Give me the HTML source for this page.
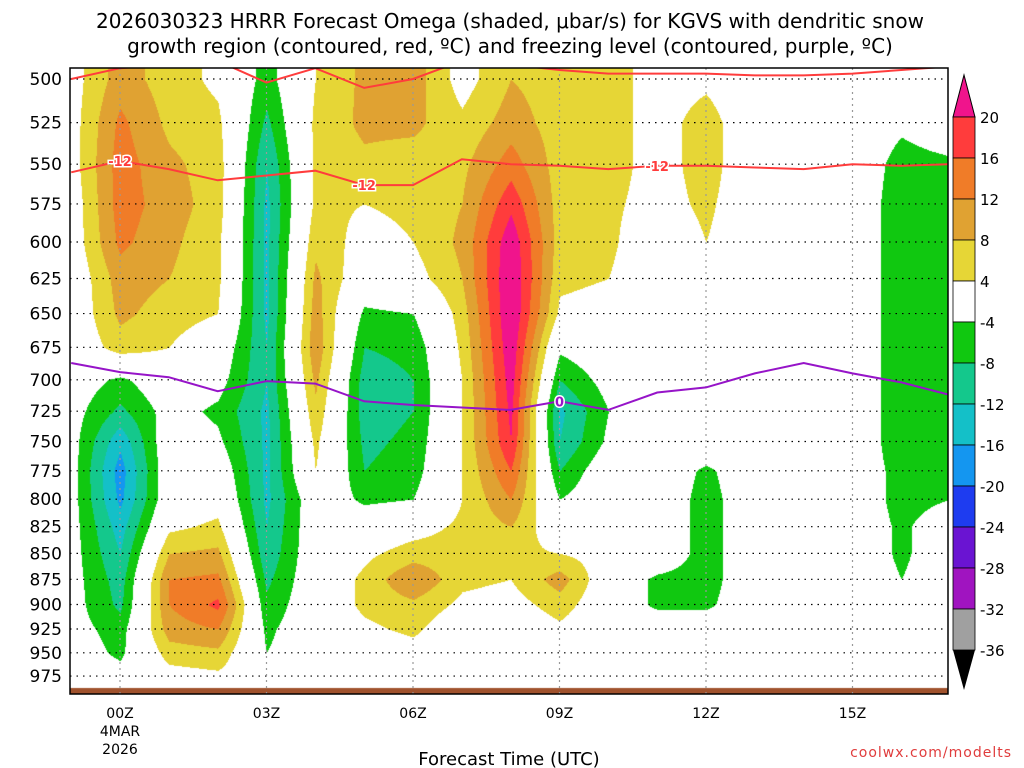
<!DOCTYPE html>
<html><head><meta charset="utf-8"><style>
body{margin:0;background:#fff;width:1024px;height:768px;overflow:hidden;font-family:"DejaVu Sans","Liberation Sans",sans-serif}
#wrap{position:relative;width:1024px;height:768px}
canvas{position:absolute;left:0;top:0}
svg{position:absolute;left:0;top:0;font-family:"DejaVu Sans","Liberation Sans",sans-serif}
</style></head><body>
<div id="wrap">
<canvas id="cv" width="1024" height="768"></canvas>
<svg id="sv" width="1024" height="768"></svg>
</div>
<script>
const hours=[-1,0,1,2,3,4,5,6,7,8,9,10,11,12,13,14,15,16,17];
const levels=[500,525,550,575,600,625,650,675,700,725,750,775,800,825,850,875,900,925,950,975];
const omega=[
[2,2,2,1,1,0,0,0,-1,-2,-2,-2,-2,-2,-2,-2,-2,-2,-1,0],
[10,13,14,14,13,10,9,6,-5,-9,-15,-18,-17,-14,-12,-10,-9,-6,-5,-2],
[6,7,9,10,9,8,6,4,0,-2,0,0,0,3,8,12,12,10,6,2],
[3,5,6,6,5,5,4,0,-2,-5,-3,0,2,5,9,13,17,12,7,3],
[-6,-9,-12,-13,-13,-13,-13,-12,-12,-13,-13,-13,-13,-12,-11,-9,-7,-5,-4,0],
[4,5,5,5,7,9,10,11,9,7,5,4,0,0,0,0,0,0,0,0],
[9,9,7,4,2,0,-5,-8,-10,-10,-9,-8,-5,0,3,5,5,3,0,0],
[10,9,6,5,4,2,-4,-7,-8,-8,-7,-6,-4,2,6,12,7,5,2,0],
[2,5,7,8,9,8,6,5,4,4,4,4,4,5,6,5,3,0,0,0],
[8,10,14,19,23,24,24,23,22,21,20,16,12,8,5,4,2,0,0,0],
[6,6,6,6,6,5,3,-3,-8,-13,-12,-8,-4,0,4,10,6,3,0,0],
[6,6,6,5,5,4,2,0,-2,-4,-3,0,0,0,2,0,0,0,0,0],
[2,2,2,2,0,0,0,0,0,0,0,0,0,0,0,-5,-5,0,0,0],
[3,6,6,5,4,0,0,0,0,0,0,-5,-6,-6,-6,-6,-5,0,0,0],
[0,0,0,0,0,0,0,0,0,0,0,0,0,0,0,0,0,0,0,0],
[0,0,0,0,0,0,0,0,0,0,0,0,0,0,0,0,0,0,0,0],
[0,0,0,0,0,0,0,0,0,0,0,0,0,0,0,0,0,0,0,0],
[0,-3,-6,-7,-7,-7,-7,-7,-7,-7,-7,-6,-6,-5,-5,-4,0,0,0,0],
[0,0,-5,-7,-7,-7,-7,-7,-7,-6,-6,-5,-4,0,0,0,0,0,0,0]];
const dgzLowP=[555,548,553,560,557,554,563,563,547,550,551,553,551,551,552,553,550,551,550];
const dgzHighP=[500,494,492,490,502,494,505,500,490,492,495,497,497,497,498,498,497,495,493];
const frzP=[687,694,698,709,701,703,717,720,722,724,717,724,710,706,695,687,695,702,712];
const xTicks=[0,3,6,9,12,15];
const xTickLabels=["00Z","03Z","06Z","09Z","12Z","15Z"];
const cbLevels=[20,16,12,8,4,-4,-8,-12,-16,-20,-24,-28,-32,-36];
const cbColors=["#ff3c3c","#f07c28","#e0a232","#e6d636","#ffffff","#10c810","#14c88c","#14c0c8","#1496f0","#1e3cf0","#6a14d2","#a014c0","#a0a0a0"];
const topColor="#f0148c", botColor="#000000";

const L=70,R=948,T=68,B=694;
const xOf=h=>120+(h*146.5/3);
const yOf=p=>79+894*Math.log(p/500);
const hOf=x=>(x-120)*3/146.5;
const pOf=y=>500*Math.exp((y-79)/894);
function colorFor(v){
  if(v>20)return topColor;
  for(let i=0;i<cbLevels.length-1;i++){if(v>cbLevels[i+1])return cbColors[i];}
  return botColor;}
function hex(c){return [parseInt(c.slice(1,3),16),parseInt(c.slice(3,5),16),parseInt(c.slice(5,7),16)];}
function interp(h,p){
  let hi=(h-hours[0]);hi=Math.max(0,Math.min(hours.length-1.0001,hi));
  let pi=(p-levels[0])/25;pi=Math.max(0,Math.min(levels.length-1.0001,pi));
  const i=Math.floor(hi),j=Math.floor(pi),fx=hi-i,fy=pi-j;
  const a=omega[i][j],b=omega[i+1][j],c=omega[i][j+1],d=omega[i+1][j+1];
  return a*(1-fx)*(1-fy)+b*fx*(1-fy)+c*(1-fx)*fy+d*fx*fy;}
const cv=document.getElementById('cv'),ctx=cv.getContext('2d');
const img=ctx.createImageData(R-L,B-T);
for(let y=T;y<B;y++){for(let x=L;x<R;x++){
  const c=hex(colorFor(interp(hOf(x),pOf(y))));
  const k=((y-T)*(R-L)+(x-L))*4;img.data[k]=c[0];img.data[k+1]=c[1];img.data[k+2]=c[2];img.data[k+3]=255;}}
ctx.putImageData(img,L,T);
ctx.fillStyle="#a0522d";ctx.fillRect(L,688,R-L,6);

const NS="http://www.w3.org/2000/svg";
const sv=document.getElementById('sv');
function el(tag,attrs,txt){const e=document.createElementNS(NS,tag);for(const k in attrs)e.setAttribute(k,attrs[k]);if(txt!==undefined)e.textContent=txt;sv.appendChild(e);return e;}
const defs=el('defs',{});const cp=document.createElementNS(NS,'clipPath');cp.setAttribute('id','pc');
const cr=document.createElementNS(NS,'rect');cr.setAttribute('x',L);cr.setAttribute('y',T);cr.setAttribute('width',R-L);cr.setAttribute('height',B-T);cp.appendChild(cr);defs.appendChild(cp);
levels.forEach(p=>{const g=el('line',{x1:L,x2:R,y1:yOf(p),y2:yOf(p),stroke:"#000","stroke-width":1.2,"stroke-dasharray":"1.5 5"});

const t=el('text',{x:L-8,y:yOf(p)+6,"text-anchor":"end","font-size":17,fill:"#000"},String(p));
});
xTicks.forEach((h,i)=>{const g=el('line',{x1:xOf(h),x2:xOf(h),y1:T,y2:B,stroke:"#999","stroke-width":1.2,"stroke-dasharray":"2 4"});

const t=el('text',{x:xOf(h),y:718,"text-anchor":"middle","font-size":14,fill:"#000"},xTickLabels[i]);
});
function line(arr,color,name){const d=arr.map((p,i)=>(i?'L':'M')+xOf(hours[i]).toFixed(1)+','+yOf(p).toFixed(1)).join(' ');
const e=el('path',{d:d,fill:"none",stroke:color,"stroke-width":2,"clip-path":"url(#pc)"});
}
line(dgzHighP,"#ff3c3c","dgz-upper-contour");
line(dgzLowP,"#ff3c3c","dgz-minus12-contour");
line(frzP,"#9614c8","freezing-level-contour");
function lab(h,arr,txt,color,name){const x=xOf(h),y=yOf(arr[hours.indexOf(Math.round(h))]);
const t=el('text',{x:x,y:y+5,"text-anchor":"middle","font-size":13,"font-weight":"bold",fill:color,stroke:"#fff","stroke-width":3,"paint-order":"stroke"},txt);
}
lab(0,dgzLowP,"-12","#ff3c3c","dgz-label-1");lab(5,dgzLowP,"-12","#ff3c3c","dgz-label-2");lab(11,dgzLowP,"-12","#ff3c3c","dgz-label-3");
lab(9,frzP,"0","#9614c8","frz-label");
const fr=el('rect',{x:L,y:T,width:R-L,height:B-T,fill:"none",stroke:"#000","stroke-width":1.5});

const cbX=953,cbW=22,cbTop=117,cbStep=(650-117)/13;
const tt=el('polygon',{points:`${cbX},${cbTop} ${cbX+cbW},${cbTop} ${cbX+cbW/2},75`,fill:topColor,stroke:"#000"});

cbColors.forEach((c,i)=>{const r=el('rect',{x:cbX,y:cbTop+i*cbStep,width:cbW,height:cbStep,fill:c,stroke:"#000","stroke-width":0.8});
});
const bt=el('polygon',{points:`${cbX},650 ${cbX+cbW},650 ${cbX+cbW/2},690`,fill:botColor});

cbLevels.forEach((v,i)=>{const t=el('text',{x:980,y:cbTop+i*cbStep+6,"font-size":15,fill:"#000"},String(v));
});
const t1=el('text',{x:510,y:28,"text-anchor":"middle","font-size":20,fill:"#000"},"2026030323 HRRR Forecast Omega (shaded, \u03bcbar/s) for KGVS with dendritic snow");

const t2=el('text',{x:510,y:53,"text-anchor":"middle","font-size":20,fill:"#000"},"growth region (contoured, red, \u00baC) and freezing level (contoured, purple, \u00baC)");

const d1=el('text',{x:120,y:736,"text-anchor":"middle","font-size":14},"4MAR");
const d2=el('text',{x:120,y:754,"text-anchor":"middle","font-size":14},"2026");
const xt=el('text',{x:509,y:765,"text-anchor":"middle","font-size":18},"Forecast Time (UTC)");
const cw=el('text',{x:1012,y:757,"text-anchor":"end","font-size":14,fill:"#e03c3c","letter-spacing":"1"},"coolwx.com/modelts");
</script>
</body></html>
